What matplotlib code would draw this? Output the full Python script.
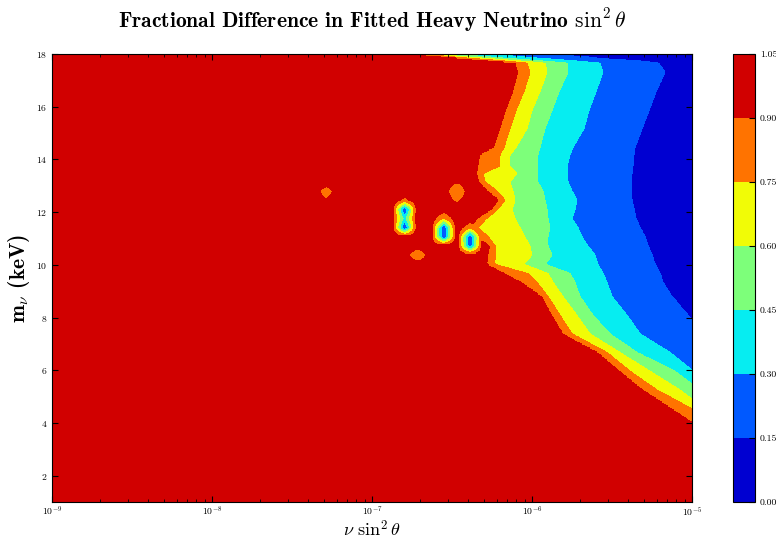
import numpy as np
import matplotlib
matplotlib.use('Agg')
import matplotlib.pyplot as plt

plt.rcParams['mathtext.fontset'] = 'cm'
plt.rcParams['font.family'] = 'serif'
plt.rcParams['font.serif'] = ['cmr10', 'DejaVu Serif']
plt.rcParams['axes.formatter.use_mathtext'] = True

# ---------------- data ----------------
levels = [0.00, 0.15, 0.30, 0.45, 0.60, 0.75, 0.90, 1.05]
band_values = [0.90, 0.75, 0.60, 0.45, 0.30, 0.15]

# mass rows (keV) at which the contour crossings were read (top to bottom)
row_mass = [18.00, 17.66, 17.31, 16.58, 15.87, 15.17, 14.46, 14.17, 13.75, 13.48,
            13.14, 12.80, 12.46, 12.12, 11.75, 11.41, 11.06, 10.71, 10.37, 10.02,
            9.67, 9.33, 8.79, 8.08, 7.38, 6.67, 5.96, 5.25, 4.54, 3.83, 1.00]

# log10(sin^2 theta) where the fractional difference crosses each level
cross_090 = [-6.763, -6.106, -6.088, -6.119, -6.163, -6.200, -6.238, -6.325, -6.338, -6.344,
             -6.331, -6.275, -6.206, -6.250, -6.338, -6.388, -6.338, -6.263, -6.275, -6.281,
             -6.169, -6.063, -5.938, -5.875, -5.806, -5.588, -5.450, -5.306, -5.125, -4.950, -4.575]
cross_075 = [-6.713, -6.031, -6.013, -6.050, -6.100, -6.138, -6.175, -6.200, -6.200, -6.306,
             -6.294, -6.219, -6.169, -6.213, -6.288, -6.338, -6.275, -6.231, -6.225, -6.238,
             -6.025, -5.969, -5.900, -5.825, -5.750, -5.531, -5.388, -5.219, -5.000, -4.856, -4.481]
cross_060 = [-6.638, -5.919, -5.906, -5.950, -6.000, -6.031, -6.100, -6.138, -6.138, -6.094,
             -6.138, -6.119, -6.106, -6.125, -6.106, -6.075, -6.044, -6.013, -6.000, -6.050,
             -5.900, -5.869, -5.806, -5.719, -5.638, -5.450, -5.263, -5.075, -4.919, -4.763, -4.388]
cross_045 = [-6.513, -5.781, -5.775, -5.831, -5.875, -5.919, -5.950, -5.963, -5.969, -5.963,
             -5.963, -5.931, -5.919, -5.906, -5.900, -5.888, -5.900, -5.900, -5.875, -5.919,
             -5.763, -5.731, -5.700, -5.619, -5.513, -5.344, -5.106, -4.950, -4.856, -4.669, -4.294]
cross_030 = [-6.294, -5.575, -5.556, -5.600, -5.644, -5.675, -5.744, -5.763, -5.781, -5.781,
             -5.775, -5.750, -5.719, -5.731, -5.750, -5.713, -5.688, -5.650, -5.606, -5.588,
             -5.556, -5.531, -5.500, -5.406, -5.325, -5.138, -4.994, -4.825, -4.700, -4.513, -4.138]
cross_015 = [-5.950, -5.213, -5.169, -5.225, -5.269, -5.313, -5.356, -5.363, -5.369, -5.375,
             -5.381, -5.381, -5.375, -5.363, -5.350, -5.325, -5.294, -5.275, -5.250, -5.231,
             -5.200, -5.181, -5.125, -5.025, -4.950, -4.700, -4.450, -4.325, -4.138, -3.950, -3.700]

# isolated pockets (grid nodes of the fit scan): log10(sin^2 theta), mass (keV), value
pocket_logx = [-6.796, -6.796, -6.796, -6.796,
               -6.551, -6.551, -6.551,
               -6.388, -6.388, -6.388,
               -6.469, -6.469, -6.469,
               -7.286, -7.286,
               -6.714]
pocket_mass = [12.449, 12.102, 11.755, 11.408,
               11.755, 11.408, 11.061,
               11.408, 11.061, 10.714,
               13.143, 12.796, 12.449,
               12.796, 12.449,
               10.367]
pocket_value = [0.85, 0.12, 0.38, 0.12,
                0.74, 0.12, 0.12,
                0.80, 0.12, 0.16,
                0.92, 0.72, 0.86,
                0.80, 0.92,
                0.72]

# ---------------- field ----------------
lx_f = np.linspace(-9, -5, 641)
y_f = np.linspace(1, 18, 341)

rm_asc = np.array(row_mass)[::-1]
crosses = [np.array(c)[::-1] for c in (cross_090, cross_075, cross_060,
                                        cross_045, cross_030, cross_015)]
band = np.empty((len(y_f), len(lx_f)))
for i, yy in enumerate(y_f):
    c = [np.interp(yy, rm_asc, cl) for cl in crosses]
    band[i] = np.interp(lx_f, [-9.5] + c + [-2.0], [1.0] + band_values + [0.0])

xc = np.linspace(-9, -5, 50)
yc = np.linspace(1, 18, 50)
G = np.ones((len(yc), len(xc)))
for lx, m, v in zip(pocket_logx, pocket_mass, pocket_value):
    G[np.argmin(abs(yc - m)), np.argmin(abs(xc - lx))] = v
Gx = np.array([np.interp(lx_f, xc, r) for r in G])
Gf = np.array([np.interp(y_f, yc, Gx[:, j]) for j in range(len(lx_f))]).T
Z = np.minimum(band, Gf)

# ---------------- plot ----------------
fig = plt.figure(figsize=(7.76, 5.36), dpi=100)
ax = fig.add_axes([52 / 776, 34 / 536, 640 / 776, 448 / 536])
cax = fig.add_axes([733 / 776, 34 / 536, 22 / 776, 448 / 536])

cs = ax.contourf(10 ** lx_f, y_f, Z, levels=levels, cmap='jet')
ax.set_xscale('log')
ax.set_xlim(1e-9, 1e-5)
ax.set_ylim(1, 18)
ax.set_yticks([2, 4, 6, 8, 10, 12, 14, 16, 18])
ax.tick_params(which='both', direction='in', top=True, right=True, labelsize=7)
ax.tick_params(which='major', length=4)
ax.tick_params(which='minor', length=2)
ax.tick_params(axis='x', pad=2)

ax.set_title(r'Fractional Difference in Fitted Heavy Neutrino $\sin^2\theta$',
             fontfamily='cmb10', fontsize=15.5, pad=19)
ax.set_xlabel(r'$\nu\ \sin^2\theta$', fontsize=13, labelpad=0.5)
ax.set_ylabel(r'm$_\nu$ (keV)', fontfamily='cmb10', fontsize=15.5, labelpad=3)

cb = fig.colorbar(cs, cax=cax, format='%.2f')
cb.ax.tick_params(direction='in', labelsize=7, length=4)

fig.savefig('out.png', dpi=100)
